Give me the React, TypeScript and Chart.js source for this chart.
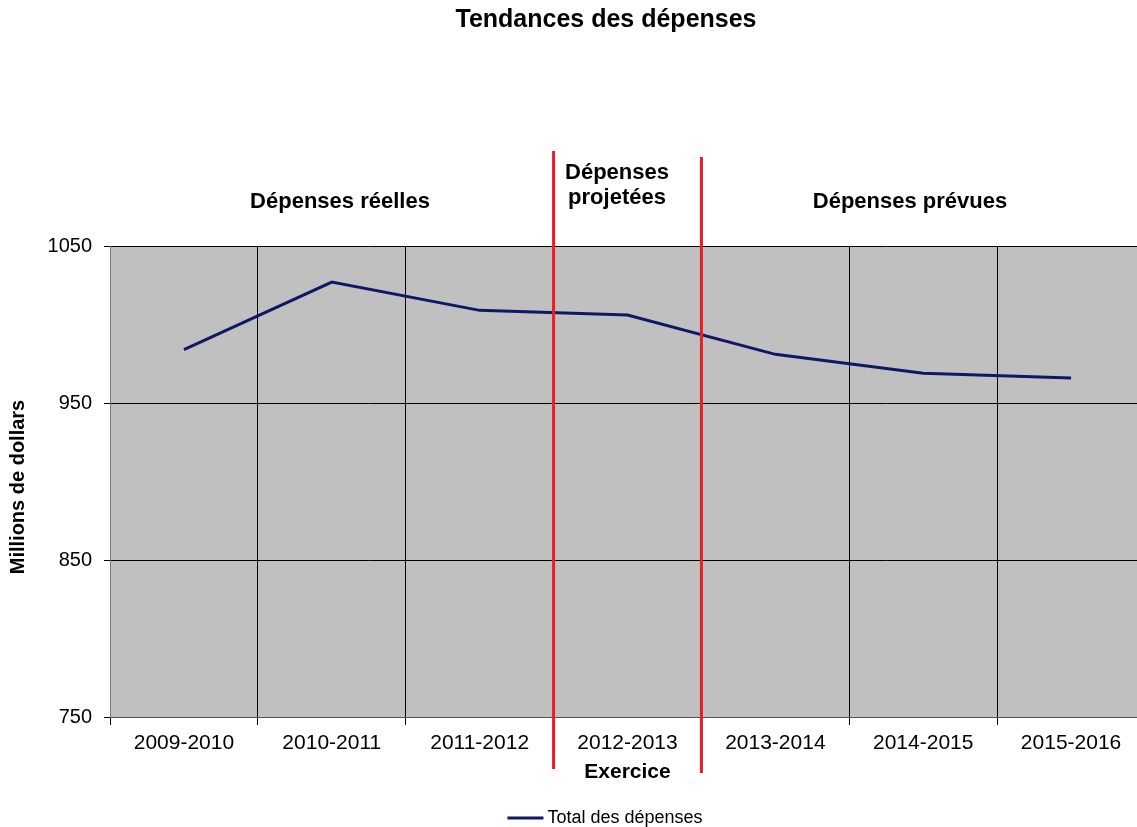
import React, { useEffect, useRef } from "react";
import { Chart, registerables } from "chart.js";

Chart.register(...registerables);

const categories = ["2009-2010", "2010-2011", "2011-2012", "2012-2013", "2013-2014", "2014-2015", "2015-2016"];
const totalSpending = [984, 1027, 1009, 1006, 981, 969, 966];
const yMin = 750;
const yMax = 1050;
const yStep = 100;
const seriesLabel = "Total des dépenses";
const chartTitle = "Tendances des dépenses";
const xTitle = "Exercice";
const yTitle = "Millions de dollars";
// section dividers: boundaries after these category indexes
const dividerAfter = [2, 3];

const FONT = '"Liberation Sans", Arial, sans-serif';
const LINE_COLOR = "#101766";
const RED = "#ED1C24";

const overlayPlugin = {
  id: "overlay",
  beforeDraw(chart: any) {
    const { ctx, chartArea } = chart;
    ctx.save();
    ctx.fillStyle = "#C0C0C0";
    ctx.fillRect(chartArea.left, chartArea.top, chartArea.right - chartArea.left, chartArea.bottom - chartArea.top);
    ctx.restore();
  },
  afterDraw(chart: any) {
    const { ctx, chartArea } = chart;
    const xs = chart.scales.x;
    ctx.save();
    // title
    ctx.fillStyle = "#000";
    ctx.textAlign = "center";
    ctx.textBaseline = "middle";
    ctx.font = `bold 25px ${FONT}`;
    ctx.fillText(chartTitle, 606, 20);
    // section labels
    ctx.font = `bold 22px ${FONT}`;
    ctx.fillText("Dépenses réelles", 340, 202);
    ctx.fillText("Dépenses", 617, 173);
    ctx.fillText("projetées", 617, 198);
    ctx.fillText("Dépenses prévues", 910, 202);
    // x title
    ctx.font = `bold 21px ${FONT}`;
    ctx.fillText(xTitle, (chartArea.left + chartArea.right) / 2, 772);
    // y title
    ctx.save();
    ctx.translate(18, 487);
    ctx.rotate(-Math.PI / 2);
    ctx.font = `bold 20px ${FONT}`;
    ctx.fillText(yTitle, 0, 0);
    ctx.restore();
    // red dividers
    ctx.strokeStyle = RED;
    ctx.lineWidth = 3;
    const ext = [
      [151, 769],
      [157, 773],
    ];
    dividerAfter.forEach((i, k) => {
      const x = (xs.getPixelForValue(i) + xs.getPixelForValue(i + 1)) / 2;
      ctx.beginPath();
      ctx.moveTo(x, ext[k][0]);
      ctx.lineTo(x, ext[k][1]);
      ctx.stroke();
    });
    // legend
    ctx.font = `18px ${FONT}`;
    const tw = ctx.measureText(seriesLabel).width;
    const lineW = 36;
    const gap = 4;
    const total = lineW + gap + tw;
    const cx = 605;
    const x0 = cx - total / 2;
    const ly = 818;
    ctx.strokeStyle = LINE_COLOR;
    ctx.lineWidth = 3;
    ctx.beginPath();
    ctx.moveTo(x0, ly);
    ctx.lineTo(x0 + lineW, ly);
    ctx.stroke();
    ctx.textAlign = "left";
    ctx.fillStyle = "#000";
    ctx.fillText(seriesLabel, x0 + lineW + gap, ly);
    ctx.restore();
  },
};

export default function App() {
  const ref = useRef<HTMLCanvasElement>(null);
  useEffect(() => {
    document.body.style.overflow = "hidden";
    const chart = new Chart(ref.current!, {
      type: "line",
      data: {
        labels: categories,
        datasets: [
          {
            label: seriesLabel,
            data: totalSpending,
            borderColor: LINE_COLOR,
            backgroundColor: LINE_COLOR,
            borderWidth: 3,
            pointRadius: 0,
            tension: 0,
          },
        ],
      },
      options: {
        animation: false,
        responsive: false,
        maintainAspectRatio: false,
        layout: { padding: { left: 0, right: 5, top: 246, bottom: 50 } },
        plugins: {
          legend: { display: false },
          title: { display: false },
          tooltip: { enabled: false },
        },
        scales: {
          x: {
            type: "category",
            offset: true,
            grid: { offset: true, color: "#000", lineWidth: 1, tickLength: 8, drawTicks: true },
            border: { color: "#555", width: 1 },
            ticks: { color: "#000", font: { family: FONT, size: 21 }, padding: 6, maxRotation: 0, autoSkip: false },
            afterFit: (s: any) => {
              s.height = 60;
            },
          },
          y: {
            min: yMin,
            max: yMax,
            grid: { color: "#000", lineWidth: 1, tickLength: 6 },
            border: { color: "#777", width: 1 },
            ticks: {
              stepSize: yStep,
              color: "#000",
              font: { family: FONT, size: 20 },
              padding: 12,
              callback: (v: any) => String(v),
            },
            afterFit: (s: any) => {
              s.width = 110;
            },
          },
        },
      },
      plugins: [overlayPlugin],
    });
    return () => chart.destroy();
  }, []);
  return (
    <div style={{ position: "absolute", left: 0, top: 0, width: 1150, height: 827 }}>
      <canvas ref={ref} width={1150} height={827} style={{ width: 1150, height: 827, display: "block" }} />
    </div>
  );
}
